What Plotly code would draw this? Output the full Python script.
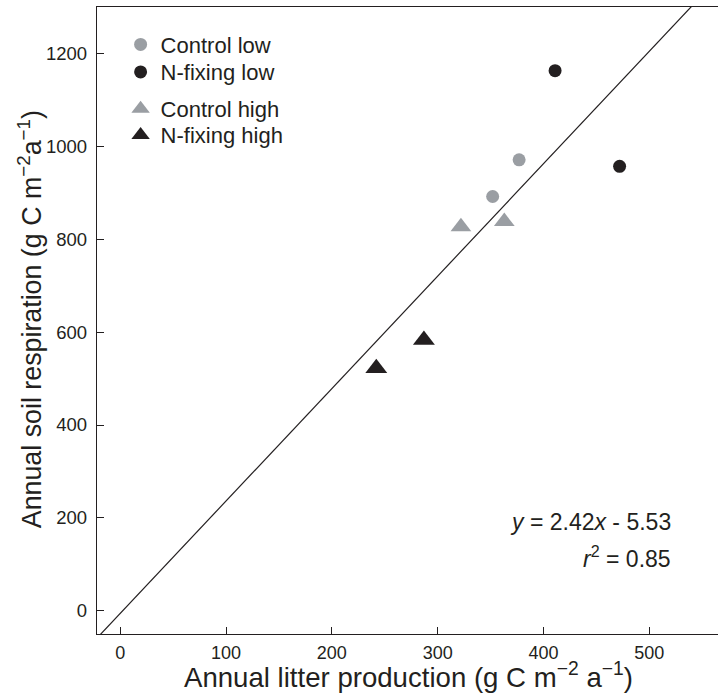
import plotly.graph_objects as go

# ---- data ----
control_low_x = [352, 377]
control_low_y = [892, 971]
nfix_low_x = [411, 472]
nfix_low_y = [1163, 957]
control_high_x = [322, 363]
control_high_y = [827, 838]
nfix_high_x = [242, 287]
nfix_high_y = [522, 583]

slope = 2.42
intercept = -5.53
r_squared = 0.85

x_range = [-22, 565]
y_range = [-50, 1300]
x_ticks = [0, 100, 200, 300, 400, 500]
y_ticks = [0, 200, 400, 600, 800, 1000, 1200]

x_title = "Annual litter production (g C m<sup>\u22122</sup> a<sup>\u22121</sup>)"
y_title = "Annual soil respiration (g C m<sup>\u22122</sup>a<sup>\u22121</sup>)"

GREY = "#9a9ea3"
BLACK = "#231f20"
FONT = "Liberation Sans, Arial, sans-serif"

fig = go.Figure()

# regression line across the visible x range
line_x = [x_range[0], x_range[1]]
line_y = [slope * v + intercept for v in line_x]
fig.add_trace(go.Scatter(x=line_x, y=line_y, mode="lines",
                         line=dict(color=BLACK, width=1.2),
                         showlegend=False, hoverinfo="skip"))

fig.add_trace(go.Scatter(x=control_low_x, y=control_low_y, mode="markers",
                         name="Control low", legend="legend",
                         marker=dict(symbol="circle", size=13, color=GREY)))
fig.add_trace(go.Scatter(x=nfix_low_x, y=nfix_low_y, mode="markers",
                         name="N-fixing low", legend="legend2",
                         marker=dict(symbol="circle", size=13, color=BLACK)))
fig.add_trace(go.Scatter(x=control_high_x, y=control_high_y, mode="markers",
                         name="Control high", legend="legend3",
                         marker=dict(symbol="triangle-up", size=18, color=GREY)))
fig.add_trace(go.Scatter(x=nfix_high_x, y=nfix_high_y, mode="markers",
                         name="N-fixing high", legend="legend4",
                         marker=dict(symbol="triangle-up", size=19, color=BLACK)))

fig.add_annotation(text=f"<i>y</i> = {slope:.2f}<i>x</i> - {abs(intercept):.2f}",
                   xref="paper", yref="paper", x=0.9275, y=0.179,
                   xanchor="right", yanchor="middle", showarrow=False,
                   font=dict(size=23, color=BLACK, family=FONT))
fig.add_annotation(text=f"<i>r</i><sup>2</sup> = {r_squared:.2f}",
                   xref="paper", yref="paper", x=0.9275, y=0.123,
                   xanchor="right", yanchor="middle", showarrow=False,
                   font=dict(size=23, color=BLACK, family=FONT))

# axis titles
fig.add_annotation(text=x_title, xref="paper", yref="paper",
                   x=0.5024, y=-0.066, xanchor="center", yanchor="middle",
                   showarrow=False, font=dict(size=27.6, color=BLACK, family=FONT))
fig.add_annotation(text=y_title, xref="paper", yref="paper", textangle=-90,
                   x=-0.1075, y=0.5024, xanchor="center", yanchor="middle",
                   showarrow=False, font=dict(size=26.8, color=BLACK, family=FONT))

def legend_box(ytop):
    return dict(x=0.038, y=ytop, xanchor="left", yanchor="top",
                font=dict(size=22, color=BLACK, family=FONT),
                bgcolor="rgba(0,0,0,0)", borderwidth=0)

fig.update_layout(
    width=718, height=697,
    margin=dict(l=97, r=0, t=7, b=63),
    paper_bgcolor="white", plot_bgcolor="white",
    font=dict(family=FONT, color=BLACK),
    legend=legend_box(0.9735),
    legend2=legend_box(0.9297),
    legend3=legend_box(0.8707),
    legend4=legend_box(0.8292),
    xaxis=dict(range=x_range, tickvals=x_ticks, ticks="inside", ticklen=7,
               tickcolor=BLACK, tickwidth=1.2,
               showline=True, linecolor=BLACK, linewidth=1.3, mirror=True,
               showgrid=False, zeroline=False,
               tickfont=dict(size=18, color=BLACK, family=FONT),
               ticklabelstandoff=2, automargin=False),
    yaxis=dict(range=y_range, tickvals=y_ticks, ticks="inside", ticklen=7,
               tickcolor=BLACK, tickwidth=1.2,
               showline=True, linecolor=BLACK, linewidth=1.3, mirror=False,
               showgrid=False, zeroline=False,
               tickfont=dict(size=18.5, color=BLACK, family=FONT),
               ticklabelstandoff=5, automargin=False),
)

fig.write_html("out.html")
